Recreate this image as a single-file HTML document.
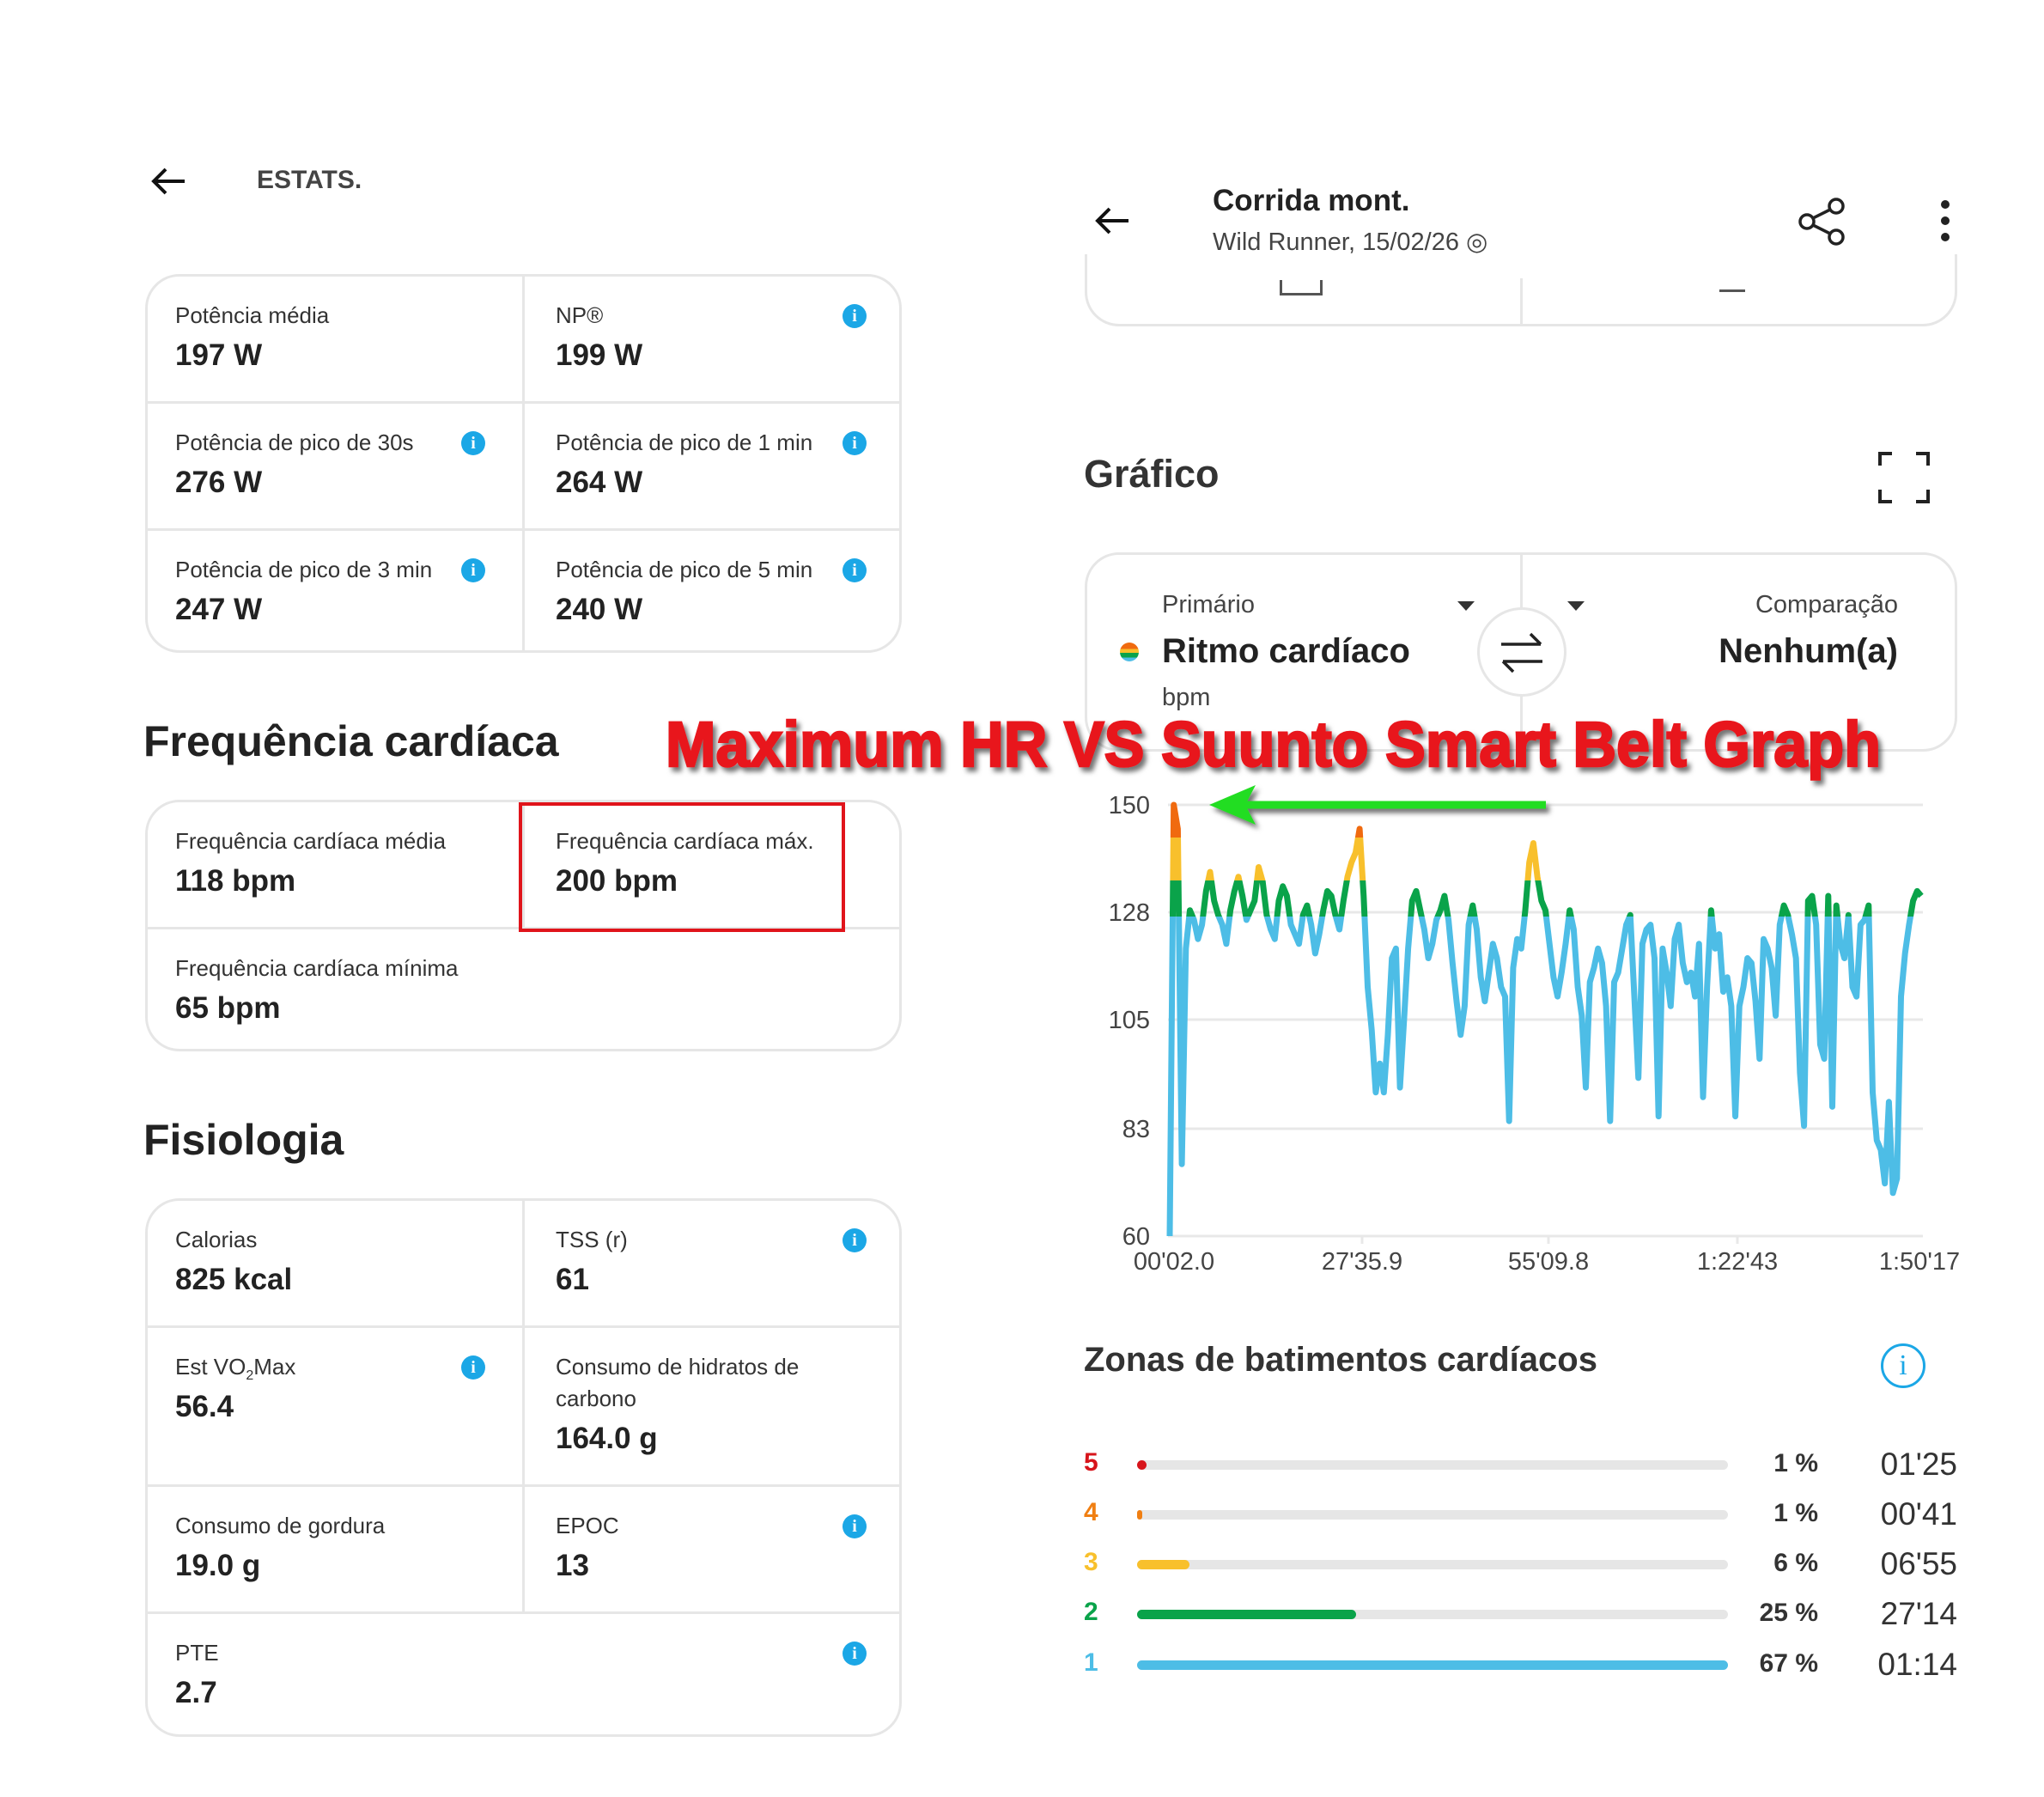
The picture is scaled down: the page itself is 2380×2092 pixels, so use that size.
<!DOCTYPE html>
<html><head><meta charset="utf-8"><style>
*{margin:0;padding:0;box-sizing:border-box}
body{width:2380px;height:2092px;background:#fff;position:relative;overflow:hidden;font-family:"Liberation Sans",sans-serif;color:#222}
.a{position:absolute;white-space:nowrap}
.card{position:absolute;border:3px solid #e6e6e6;border-radius:40px}
.hl{position:absolute;height:3px;background:#e6e6e6}
.vl{position:absolute;width:3px;background:#e6e6e6}
.lab{font-size:26px;color:#333}
.val{font-size:35px;font-weight:bold;color:#222}
.info{position:absolute;width:28px;height:28px;border-radius:50%;background:#1ba7e6;color:#fff;font-size:20px;font-weight:bold;text-align:center;line-height:28px;font-family:"Liberation Serif",serif}
.h2{font-size:50px;font-weight:bold;color:#222}
#L{position:absolute;left:0;top:0;width:2380px;height:2092px;transform:translate(-3px,-4px)}
#R{position:absolute;left:0;top:0;width:2380px;height:2092px;transform:translate(-8px,-4px)}
</style></head><body>
<div id="L">
<svg class="a" style="left:178px;top:198px" width="42" height="34"><g stroke="#111" stroke-width="4" fill="none"><path d="M40 17H4M18 3L4 17L18 31"/></g></svg>
<div class="a" style="left:302px;top:197px;font-size:30px;font-weight:bold;color:#444">ESTATS.</div>

<div class="card" style="left:172px;top:323px;width:881px;height:441px"></div>
<div class="hl" style="left:172px;top:471px;width:881px"></div>
<div class="hl" style="left:172px;top:619px;width:881px"></div>
<div class="vl" style="left:611px;top:323px;height:441px"></div>
<div class="a lab" style="left:207px;top:356px">Potência média</div>
<div class="a val" style="left:207px;top:398px">197 W</div>
<div class="a lab" style="left:650px;top:356px">NP®</div>
<div class="a val" style="left:650px;top:398px">199 W</div>
<div class="info" style="left:984px;top:358px">i</div>
<div class="a lab" style="left:207px;top:504px">Potência de pico de 30s</div>
<div class="a val" style="left:207px;top:546px">276 W</div>
<div class="info" style="left:540px;top:506px">i</div>
<div class="a lab" style="left:650px;top:504px">Potência de pico de 1 min</div>
<div class="a val" style="left:650px;top:546px">264 W</div>
<div class="info" style="left:984px;top:506px">i</div>
<div class="a lab" style="left:207px;top:652px">Potência de pico de 3 min</div>
<div class="a val" style="left:207px;top:694px">247 W</div>
<div class="info" style="left:540px;top:654px">i</div>
<div class="a lab" style="left:650px;top:652px">Potência de pico de 5 min</div>
<div class="a val" style="left:650px;top:694px">240 W</div>
<div class="info" style="left:984px;top:654px">i</div>

<div class="a h2" style="left:170px;top:838px">Frequência cardíaca</div>
<div class="card" style="left:172px;top:935px;width:881px;height:293px"></div>
<div class="hl" style="left:172px;top:1083px;width:881px"></div>
<div class="vl" style="left:611px;top:935px;height:148px"></div>
<div class="a lab" style="left:207px;top:968px">Frequência cardíaca média</div>
<div class="a val" style="left:207px;top:1010px">118 bpm</div>
<div class="a lab" style="left:650px;top:968px">Frequência cardíaca máx.</div>
<div class="a val" style="left:650px;top:1010px">200 bpm</div>
<div class="a" style="left:607px;top:938px;width:380px;height:151px;border:4px solid #e0141b"></div>
<div class="a lab" style="left:207px;top:1116px">Frequência cardíaca mínima</div>
<div class="a val" style="left:207px;top:1158px">65 bpm</div>

<div class="a h2" style="left:170px;top:1302px">Fisiologia</div>
<div class="card" style="left:172px;top:1399px;width:881px;height:627px"></div>
<div class="hl" style="left:172px;top:1547px;width:881px"></div>
<div class="hl" style="left:172px;top:1732px;width:881px"></div>
<div class="hl" style="left:172px;top:1880px;width:881px"></div>
<div class="vl" style="left:611px;top:1399px;height:481px"></div>
<div class="a lab" style="left:207px;top:1432px">Calorias</div>
<div class="a val" style="left:207px;top:1474px">825 kcal</div>
<div class="a lab" style="left:650px;top:1432px">TSS (r)</div>
<div class="a val" style="left:650px;top:1474px">61</div>
<div class="info" style="left:984px;top:1434px">i</div>
<div class="a lab" style="left:207px;top:1580px">Est VO<sub style="font-size:16px">2</sub>Max</div>
<div class="a val" style="left:207px;top:1622px">56.4</div>
<div class="info" style="left:540px;top:1582px">i</div>
<div class="a lab" style="left:650px;top:1580px">Consumo de hidratos de</div>
<div class="a lab" style="left:650px;top:1617px">carbono</div>
<div class="a val" style="left:650px;top:1659px">164.0 g</div>
<div class="a lab" style="left:207px;top:1765px">Consumo de gordura</div>
<div class="a val" style="left:207px;top:1807px">19.0 g</div>
<div class="a lab" style="left:650px;top:1765px">EPOC</div>
<div class="a val" style="left:650px;top:1807px">13</div>
<div class="info" style="left:984px;top:1767px">i</div>
<div class="a lab" style="left:207px;top:1913px">PTE</div>
<div class="a val" style="left:207px;top:1955px">2.7</div>
<div class="info" style="left:984px;top:1915px">i</div>
</div>

<div id="R">
<svg class="a" style="left:1282px;top:244px" width="42" height="34"><g stroke="#111" stroke-width="4" fill="none"><path d="M40 17H4M18 3L4 17L18 31"/></g></svg>
<div class="a" style="left:1420px;top:218px;font-size:35px;font-weight:bold">Corrida mont.</div>
<div class="a" style="left:1420px;top:268px;font-size:29px;color:#444">Wild Runner, 15/02/26 &#9678;</div>
<svg class="a" style="left:2100px;top:232px" width="60" height="60"><g stroke="#222" stroke-width="3.5" fill="none"><circle cx="46" cy="12" r="8"/><circle cx="12" cy="30" r="8"/><circle cx="46" cy="48" r="8"/><line x1="19" y1="26" x2="39" y2="16"/><line x1="19" y1="34" x2="39" y2="44"/></g></svg>
<svg class="a" style="left:2263px;top:236px" width="20" height="50"><g fill="#222"><circle cx="10" cy="6" r="5"/><circle cx="10" cy="25" r="5"/><circle cx="10" cy="44" r="5"/></g></svg>

<div class="a" style="left:1271px;top:300px;width:1016px;height:84px;border:3px solid #e6e6e6;border-top:none;border-radius:0 0 40px 40px"></div>
<div class="vl" style="left:1778px;top:328px;height:56px"></div>
<div class="a" style="left:1498px;top:330px;width:50px;height:18px;border:3px solid #555;border-top:none"></div>
<div class="a" style="left:2010px;top:332px;width:30px;height:12px;border-bottom:3px solid #555"></div>

<div class="a" style="left:1270px;top:530px;font-size:45px;font-weight:bold;color:#333">Gráfico</div>
<svg class="a" style="left:2195px;top:530px" width="60" height="60"><g stroke="#222" stroke-width="4" fill="none"><path d="M2 16V2H16M44 2H58V16M58 44V58H44M16 58H2V44"/></g></svg>

<div class="card" style="left:1271px;top:647px;width:1016px;height:232px"></div>
<div class="vl" style="left:1778px;top:647px;height:232px"></div>
<div class="a" style="left:1361px;top:692px;font-size:29px;color:#444">Primário</div>
<div class="a" style="left:1312px;top:752px;width:22px;height:22px;border-radius:50%;background:linear-gradient(#f06a0f 0 33%,#f8c02c 33% 55%,#0aa34a 55% 80%,#4dbde6 80%)"></div>
<div class="a" style="left:1361px;top:740px;font-size:40px;font-weight:bold">Ritmo cardíaco</div>
<div class="a" style="left:1361px;top:800px;font-size:29px;color:#444">bpm</div>
<div class="a" style="left:1705px;top:704px;width:0;height:0;border-left:10px solid transparent;border-right:10px solid transparent;border-top:11px solid #333"></div>
<div class="a" style="left:1833px;top:704px;width:0;height:0;border-left:10px solid transparent;border-right:10px solid transparent;border-top:11px solid #333"></div>
<div class="a" style="left:1728px;top:711px;width:104px;height:104px;border-radius:50%;border:3px solid #e6e6e6;background:#fff"></div>
<svg class="a" style="left:1752px;top:738px" width="56" height="52"><g stroke="#222" stroke-width="3.5" fill="none"><path d="M4 16H50M38 4L50 16M52 36H6M18 48L6 36"/></g></svg>
<div class="a" style="right:162px;top:692px;font-size:29px;color:#444">Comparação</div>
<div class="a" style="right:162px;top:740px;font-size:40px;font-weight:bold">Nenhum(a)</div>

<svg class="a" style="left:0;top:0" width="2380" height="2092">
<defs>
<filter id="sh" x="-5%" y="-30%" width="110%" height="160%"><feDropShadow dx="4" dy="5" stdDeviation="3" flood-color="#000" flood-opacity="0.55"/></filter>
<clipPath id="cb"><rect x="1300" y="1071" width="1000" height="400"/></clipPath>
<clipPath id="cg"><rect x="1300" y="1029" width="1000" height="42"/></clipPath>
<clipPath id="cy"><rect x="1300" y="979" width="1000" height="50"/></clipPath>
<clipPath id="co"><rect x="1300" y="900" width="1000" height="79"/></clipPath>
</defs>
<g stroke="#e8e8e8" stroke-width="3">
<line x1="1368" y1="941" x2="2247" y2="941"/><line x1="1368" y1="1066" x2="2247" y2="1066"/><line x1="1368" y1="1191" x2="2247" y2="1191"/><line x1="1368" y1="1318" x2="2247" y2="1318"/><line x1="1368" y1="1443" x2="2247" y2="1443"/>
<line x1="1594" y1="1443" x2="1594" y2="1452"/><line x1="1811" y1="1443" x2="1811" y2="1452"/><line x1="2031" y1="1443" x2="2031" y2="1452"/>
</g>
<g font-size="29" fill="#444" text-anchor="end" font-family="Liberation Sans">
<text x="1347" y="951">150</text><text x="1347" y="1076">128</text><text x="1347" y="1201">105</text><text x="1347" y="1328">83</text><text x="1347" y="1453">60</text>
</g>
<g font-size="29" fill="#444" text-anchor="middle" font-family="Liberation Sans">
<text x="1375" y="1482">00'02.0</text><text x="1594" y="1482">27'35.9</text><text x="1811" y="1482">55'09.8</text><text x="2031" y="1482">1:22'43</text><text x="2243" y="1482">1:50'17</text>
</g>
<g id="lines" fill="none" stroke-width="7" stroke-linejoin="round"></g>
<g filter="url(#sh)">
<line x1="1808" y1="941" x2="1450" y2="941" stroke="#22dd22" stroke-width="9"/>
<path d="M1416 941L1470 918L1458 941L1470 964Z" fill="#22dd22"/>
</g>
<text x="783" y="896" font-size="74" font-weight="900" fill="#e8141b" stroke="#e8141b" stroke-width="2.5" textLength="1415" lengthAdjust="spacingAndGlyphs" filter="url(#sh)" font-family="Liberation Sans">Maximum HR VS Suunto Smart Belt Graph</text>
</svg>

<div class="a" style="left:1270px;top:1565px;font-size:40px;font-weight:bold;color:#333">Zonas de batimentos cardíacos</div>
<div class="a" style="left:2198px;top:1568px;width:52px;height:52px;border-radius:50%;border:3px solid #1ba7e6;color:#1ba7e6;font-size:34px;text-align:center;line-height:46px;font-family:'Liberation Serif',serif">i</div>
<div id="zones"></div>
</div>

<script>
var v=[60,150,145,75,120,128,126,122,125,132,136,130,127,125,121,128,132,135,131,126,128,130,137,134,127,124,122,130,133,131,125,123,121,127,129,125,119,123,128,132,131,127,124,130,135,138,140,145,131,112,103,90,96,90,102,118,120,91,105,120,130,132,128,124,118,121,126,128,131,126,117,109,102,108,125,129,124,114,109,115,121,118,112,110,84,116,122,120,128,138,142,135,130,128,121,114,110,115,121,128,124,112,106,91,113,116,120,117,108,84,113,115,120,125,127,110,93,121,124,125,118,85,120,115,108,122,125,117,113,115,110,121,89,112,128,120,123,111,114,108,85,108,112,118,117,109,97,122,120,116,106,125,129,127,123,118,94,83,130,131,125,100,97,131,87,129,121,118,127,112,110,125,126,129,90,80,78,71,88,69,72,110,119,125,130,132,131];
var n=v.length,pts=[];
for(var i=0;i<n;i++){var x=1370+(i/(n-1))*875;var y=941+(150-v[i])*5.578;pts.push(x.toFixed(1)+","+y.toFixed(1));}
var p=pts.join(" "),g=document.getElementById("lines"),h="";
[["cb","#4dbde6"],["cg","#0aa34a"],["cy","#f8c02c"],["co","#f06a0f"]].forEach(function(c){h+='<polyline clip-path="url(#'+c[0]+')" stroke="'+c[1]+'" points="'+p+'"/>';});
g.innerHTML=h;
var z=[["5","#d7141b",1709,1343,"1 %","01'25"],["4","#f07f12",1767,1338,"1 %","00'41"],["3","#f8c02c",1825,1393,"6 %","06'55"],["2","#0aa34a",1883,1587,"25 %","27'14"],["1","#4dbde6",1942,2020,"67 %","01:14"]];
var s="";
z.forEach(function(r){
s+='<div class="a" style="left:1270px;top:'+(r[2]-19)+'px;font-size:30px;font-weight:bold;color:'+r[1]+'">'+r[0]+'</div>';
s+='<div class="a" style="left:1332px;top:'+(r[2]-5)+'px;width:688px;height:11px;border-radius:6px;background:#e6e6e6"></div>';
s+='<div class="a" style="left:1332px;top:'+(r[2]-5)+'px;width:'+(r[3]-1332)+'px;height:11px;border-radius:6px;background:'+r[1]+'"></div>';
s+='<div class="a" style="right:255px;top:'+(r[2]-18)+'px;font-size:30px;font-weight:bold;color:#333">'+r[4]+'</div>';
s+='<div class="a" style="right:93px;top:'+(r[2]-21)+'px;font-size:37px;color:#333">'+r[5]+'</div>';
});
document.getElementById("zones").innerHTML=s;
</script>
</body></html>
